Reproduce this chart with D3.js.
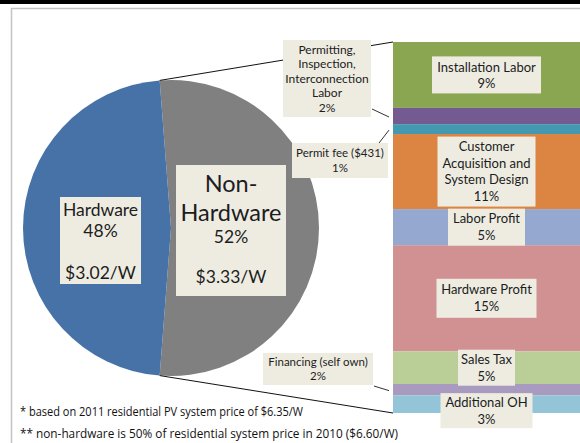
<!DOCTYPE html>
<html><head><meta charset="utf-8">
<script src="https://cdn.jsdelivr.net/npm/d3@7/dist/d3.min.js"></script>
<style>html,body{margin:0;padding:0;background:#fff;overflow:hidden}</style>
</head><body>
<svg id="c" width="580" height="443"></svg>
<script>
// ---------- DATA ----------
const pieCategories = ["Non-Hardware", "Hardware"];
const piePrices = [3.33, 3.02];            // $/W
const piePercents = ["52%", "48%"];
const piePriceLabels = ["$3.33/W", "$3.02/W"];

const barCategories = [
  "Installation Labor",
  "Permitting, Inspection, Interconnection Labor",
  "Permit fee ($431)",
  "Customer Acquisition and System Design",
  "Labor Profit",
  "Hardware Profit",
  "Sales Tax",
  "Financing (self own)",
  "Additional OH"
];
const barValues = [9.3, 2.3, 1.4, 10.6, 5.1, 15.0, 4.6, 1.6, 2.5];  // % of system price
const barPercentLabels = ["9%", "2%", "1%", "11%", "5%", "15%", "5%", "2%", "3%"];
const barLabelLines = [
  ["Installation Labor"],
  ["Permitting,", "Inspection,", "Interconnection", "Labor"],
  ["Permit fee ($431)"],
  ["Customer", "Acquisition and", "System Design"],
  ["Labor Profit"],
  ["Hardware Profit"],
  ["Sales Tax"],
  ["Financing (self own)"],
  ["Additional OH"]
];
const footnotes = [
  "* based on 2011 residential PV system price of $6.35/W",
  "** non-hardware is 50% of residential system price in 2010 ($6.60/W)"
];

// ---------- STYLE / LAYOUT ----------
const pieColors = ["#808080", "#4672A7"];
const barColors = ["#8BA650", "#735A90", "#4399B0", "#DC8442", "#95A9D0", "#D19092", "#BACE98", "#A89BBF", "#93C4D7"];
const boxFill = "#EEECE1";
const textColor = "#1c1c22";
const FONT = "Lato, 'Open Sans', sans-serif";

const svg = d3.select("#c");
svg.append("rect").attr("x",0).attr("y",0).attr("width",580).attr("height",443).attr("fill","#fff");
svg.append("rect").attr("x",0).attr("y",0).attr("width",580).attr("height",4).attr("fill","#000");
svg.append("path").attr("d","M11.5,443 L11.5,8.5 L580,8.5").attr("fill","none").attr("stroke","#c3c3c3").attr("stroke-width",1.5);

// ---------- PIE ----------
const cx = 171, cy = 228, R = 148;
const total = d3.sum(piePrices);
const grayAngle = piePrices[0] / total * 2 * Math.PI;
const a0 = Math.PI / 2 - grayAngle / 2;
const pie = d3.pie().sort(null).startAngle(a0).endAngle(a0 + 2 * Math.PI);
const arcs = pie(piePrices);
const arc = d3.arc().innerRadius(0).outerRadius(R);
svg.append("g").attr("transform", `translate(${cx},${cy})`)
  .selectAll("path").data(arcs).join("path")
  .attr("d", arc).attr("fill", (d, i) => pieColors[i]);

// ---------- BAR ----------
const barX0 = 393, barX1 = 580;
const barTotal = d3.sum(barValues);
const y = d3.scaleLinear().domain([0, barTotal]).range([42, 413]);
const cum = d3.cumsum(barValues);
const segs = barValues.map((v, i) => ({ i, y0: y(cum[i] - v), y1: y(cum[i]) }));

// connectors pie -> bar
const pTop = [cx + R * Math.sin(a0), cy - R * Math.cos(a0)];
const pBot = [cx + R * Math.sin(a0 + grayAngle), cy - R * Math.cos(a0 + grayAngle)];
const line = d3.line();
svg.append("path").attr("d", line([pTop, [barX0, y(0)]])).attr("stroke", "#111").attr("stroke-width", 1).attr("fill", "none");
svg.append("path").attr("d", line([pBot, [barX0, y(barTotal)]])).attr("stroke", "#111").attr("stroke-width", 1).attr("fill", "none");

svg.append("g").selectAll("rect").data(segs).join("rect")
  .attr("x", barX0).attr("width", barX1 - barX0)
  .attr("y", d => d.y0).attr("height", d => d.y1 - d.y0)
  .attr("fill", d => barColors[d.i]);

// ---------- LABELS ----------
function drawLabel(box, lines, fs, lh) {
  const [x0, y0, x1, y1] = box;
  svg.append("rect").attr("x", x0).attr("y", y0).attr("width", x1 - x0).attr("height", y1 - y0).attr("fill", boxFill);
  const mx = (x0 + x1) / 2, my = (y0 + y1) / 2;
  lines.forEach((t, k) => {
    const yc = my + (k - (lines.length - 1) / 2) * lh;
    svg.append("text").attr("x", mx).attr("y", yc + 0.36 * fs)
      .attr("text-anchor", "middle").attr("font-family", FONT).attr("font-size", fs)
      .attr("fill", textColor).text(t);
  });
}

const barLabelLayout = [
  { inside: true, w: 109, h: 37, dy: 0, fs: 13, lh: 16 },
  { inside: false, box: [283, 40, 371, 117], fs: 12, lh: 14.5, from: [372, 109] },
  { inside: false, box: [292, 143, 388, 178], fs: 11.5, lh: 15, from: [379, 143] },
  { inside: true, w: 98, h: 70, dy: 0, fs: 13, lh: 16.5 },
  { inside: true, w: 77, h: 37, dy: 0, fs: 13, lh: 17 },
  { inside: true, w: 100, h: 39, dy: 0, fs: 13, lh: 17 },
  { inside: true, w: 57, h: 36, dy: 0, fs: 13, lh: 17 },
  { inside: false, box: [263, 353, 373, 385], fs: 11.5, lh: 14, from: [374, 386] },
  { inside: true, w: 92, h: 35, dy: 6.5, fs: 13, lh: 17 }
];

// leader lines for outside labels (drawn under boxes)
segs.forEach(s => {
  const L = barLabelLayout[s.i];
  if (!L.inside) {
    const ym = (s.y0 + s.y1) / 2;
    svg.append("path").attr("d", line([L.from, [barX0 - 4, ym + 1]]))
      .attr("stroke", "#333").attr("stroke-width", 1).attr("fill", "none");
  }
});

segs.forEach(s => {
  const L = barLabelLayout[s.i];
  const lines = barLabelLines[s.i].concat([barPercentLabels[s.i]]);
  let box;
  if (L.inside) {
    const mx = (barX0 + barX1) / 2, my = (s.y0 + s.y1) / 2 + L.dy;
    box = [mx - L.w / 2, my - L.h / 2, mx + L.w / 2, my + L.h / 2];
  } else box = L.box;
  drawLabel(box, lines, L.fs, L.lh);
});

// pie labels
function drawPieLabel(box, items) {
  const [x0, y0, x1, y1] = box;
  svg.append("rect").attr("x", x0).attr("y", y0).attr("width", x1 - x0).attr("height", y1 - y0).attr("fill", boxFill);
  const mx = (x0 + x1) / 2;
  items.forEach(it => {
    svg.append("text").attr("x", mx).attr("y", it.y + 0.36 * it.fs)
      .attr("text-anchor", "middle").attr("font-family", FONT).attr("font-size", it.fs)
      .attr("fill", textColor).text(it.t);
  });
}
const hwName = pieCategories[1];
drawPieLabel([60, 197, 141, 284], [
  { t: hwName, fs: 17.5, y: 210 },
  { t: piePercents[1], fs: 17.5, y: 231 },
  { t: piePriceLabels[1], fs: 17.5, y: 273 }
]);
const nhParts = pieCategories[0].split("-");
drawPieLabel([176, 165, 286, 296], [
  { t: nhParts[0] + "-", fs: 23.5, y: 184 },
  { t: nhParts[1], fs: 23.5, y: 213 },
  { t: piePercents[0], fs: 17.5, y: 237 },
  { t: piePriceLabels[0], fs: 17.5, y: 277 }
]);

// footnotes
const fnLen = [283, 378];
footnotes.forEach((t, k) => {
  svg.append("text").attr("x", 20).attr("y", 416 + k * 22)
    .attr("font-family", "'Open Sans', Lato, sans-serif").attr("font-size", 12)
    .attr("textLength", fnLen[k]).attr("lengthAdjust", "spacingAndGlyphs")
    .attr("fill", "#111").text(t);
});
</script>
</body></html>
